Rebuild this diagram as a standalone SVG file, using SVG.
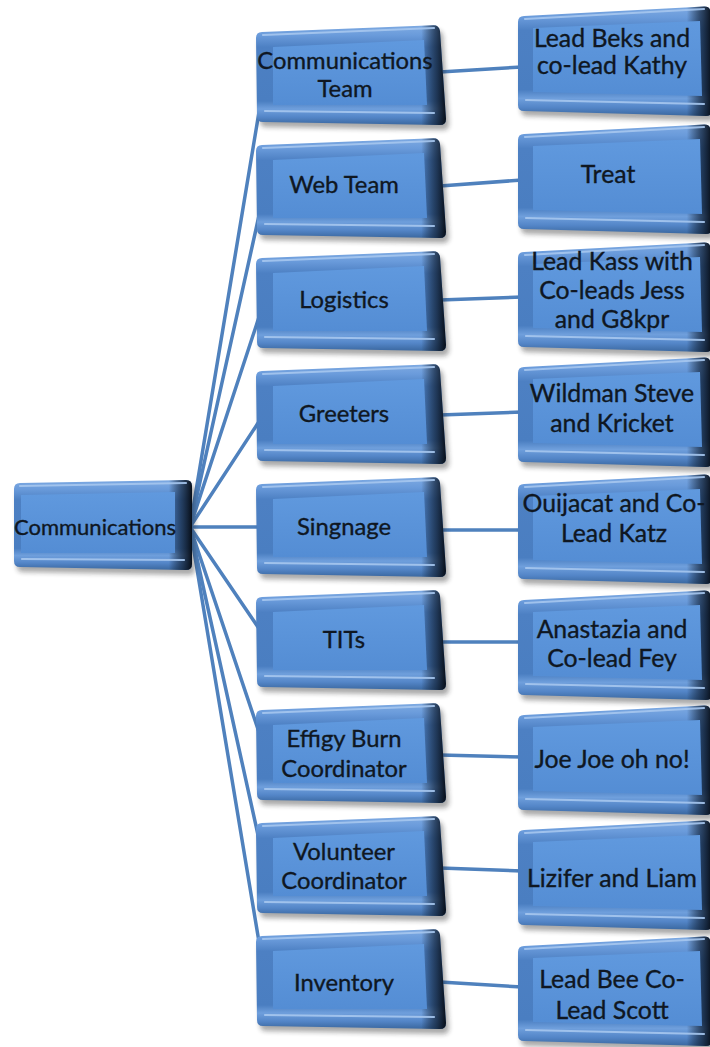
<svg xmlns="http://www.w3.org/2000/svg" xmlns:xlink="http://www.w3.org/1999/xlink" width="710" height="1047" viewBox="0 0 710 1047">
<style>
.t{font-family:Lato,"Liberation Sans",sans-serif;fill:#0f1722;stroke:#0f1722;stroke-width:0.35;text-anchor:middle}
.tr{font-size:22px}
.tm{font-size:23.8px}
.tg{font-size:24.8px}
.conn{stroke:#4f81bd;stroke-width:3.5;fill:none;stroke-linecap:round}
.sh{fill:#1a1a1a;opacity:.38;filter:url(#blur)}
.o{fill:url(#gOuter)}
.sd{fill:url(#gSide)}
.f{fill:url(#gFace)}
.hl{fill:none;stroke:#a6c6ee;stroke-width:2.2;stroke-linecap:round;opacity:.9}
</style>
<defs>
<linearGradient id="gOuter" x1="0" y1="0" x2="0" y2="1">
<stop offset="0" stop-color="#7eaae2"/>
<stop offset="0.1" stop-color="#6a9bdb"/>
<stop offset="0.22" stop-color="#4d80c3"/>
<stop offset="0.76" stop-color="#4a7ec1"/>
<stop offset="0.84" stop-color="#6f9fdc"/>
<stop offset="0.92" stop-color="#5486c8"/>
<stop offset="1" stop-color="#3a679f"/>
</linearGradient>
<linearGradient id="gSide" x1="0" y1="0" x2="1" y2="0">
<stop offset="0" stop-color="#0a1422" stop-opacity="0"/>
<stop offset="0.87" stop-color="#0a1422" stop-opacity="0"/>
<stop offset="0.94" stop-color="#13243b" stop-opacity="0.7"/>
<stop offset="1" stop-color="#050a12" stop-opacity="0.97"/>
</linearGradient>
<linearGradient id="gFace" x1="0" y1="0" x2="0" y2="1">
<stop offset="0" stop-color="#6099de"/>
<stop offset="1" stop-color="#548dd4"/>
</linearGradient>
<filter id="blur" x="-10%" y="-15%" width="125%" height="140%"><feGaussianBlur stdDeviation="2.5"/></filter>
<path id="mO" d="M0,13 Q0,7 6,7 L177,0.3 Q183,0 184,6 L190,94 Q190,100 184,100 L7,97 Q1,97 1,91 Z"/>
<path id="mF" d="M17,22 L168,15 L171,80 L17,80 Z"/>
<path id="mH" d="M7,10 L178,3 M9,86 L178,88"/>
<path id="rO" d="M0,16 Q0,10 6,10 L186,0.4 Q192,0 192.5,6 L194,104 Q194,110 188,110 L6,105 Q0,105 0,99 Z"/>
<path id="rF" d="M15,22 L182,15 L184,90 L15,86 Z"/>
<path id="rH" d="M7,13 L186,3 M8,94 L186,98"/>
<path id="cO" d="M0,9 Q0,3 6,3 L172,0 Q178,0 178,6 L178,84 Q178,90 172,90 L6,87 Q0,87 0,81 Z"/>
<path id="cF" d="M7,15 L161,12 L161,73 L7,73 Z"/>
<path id="cH" d="M6,6 L172,3 M8,79 L170,80"/>
</defs>
<rect width="710" height="1047" fill="#ffffff"/>
<g id="connectors">
<line class="conn" x1="190" y1="527" x2="262" y2="94"/>
<line class="conn" x1="190" y1="527" x2="262" y2="202"/>
<line class="conn" x1="190" y1="527" x2="262" y2="308"/>
<line class="conn" x1="190" y1="527" x2="262" y2="417"/>
<line class="conn" x1="190" y1="527" x2="262" y2="527"/>
<line class="conn" x1="190" y1="527" x2="262" y2="633"/>
<line class="conn" x1="190" y1="527" x2="262" y2="741"/>
<line class="conn" x1="190" y1="527" x2="262" y2="853"/>
<line class="conn" x1="190" y1="527" x2="262" y2="960"/>
<line class="conn" x1="440" y1="72" x2="522" y2="67"/>
<line class="conn" x1="440" y1="186" x2="522" y2="180"/>
<line class="conn" x1="440" y1="300" x2="522" y2="297"/>
<line class="conn" x1="440" y1="415" x2="522" y2="412"/>
<line class="conn" x1="440" y1="530" x2="522" y2="530"/>
<line class="conn" x1="440" y1="642" x2="522" y2="642"/>
<line class="conn" x1="440" y1="755" x2="522" y2="757"/>
<line class="conn" x1="440" y1="868" x2="522" y2="871"/>
<line class="conn" x1="440" y1="982" x2="522" y2="987"/>
</g>
<g id="n-root">
<g transform="translate(14,480)"><use href="#cO" class="sh" transform="translate(3,5)"/><use href="#cO" class="o"/><use href="#cO" class="sd"/><use href="#cF" class="f"/><use href="#cH" class="hl"/></g>
<text class="t tr" x="95" y="535">Communications</text>
</g>
<g id="n-communications-team">
<g transform="translate(256,25)"><use href="#mO" class="sh" transform="translate(3,5)"/><use href="#mO" class="o"/><use href="#mO" class="sd"/><use href="#mF" class="f"/><use href="#mH" class="hl"/></g>
<text class="t tm" x="345" y="69">Communications</text>
<text class="t tm" x="345" y="97">Team</text>
</g>
<g id="n-web-team">
<g transform="translate(256,138)"><use href="#mO" class="sh" transform="translate(3,5)"/><use href="#mO" class="o"/><use href="#mO" class="sd"/><use href="#mF" class="f"/><use href="#mH" class="hl"/></g>
<text class="t tm" x="344" y="193">Web Team</text>
</g>
<g id="n-logistics">
<g transform="translate(256,251)"><use href="#mO" class="sh" transform="translate(3,5)"/><use href="#mO" class="o"/><use href="#mO" class="sd"/><use href="#mF" class="f"/><use href="#mH" class="hl"/></g>
<text class="t tm" x="344" y="308">Logistics</text>
</g>
<g id="n-greeters">
<g transform="translate(256,364)"><use href="#mO" class="sh" transform="translate(3,5)"/><use href="#mO" class="o"/><use href="#mO" class="sd"/><use href="#mF" class="f"/><use href="#mH" class="hl"/></g>
<text class="t tm" x="344" y="422">Greeters</text>
</g>
<g id="n-singnage">
<g transform="translate(256,477)"><use href="#mO" class="sh" transform="translate(3,5)"/><use href="#mO" class="o"/><use href="#mO" class="sd"/><use href="#mF" class="f"/><use href="#mH" class="hl"/></g>
<text class="t tm" x="344" y="535">Singnage</text>
</g>
<g id="n-tits">
<g transform="translate(256,590)"><use href="#mO" class="sh" transform="translate(3,5)"/><use href="#mO" class="o"/><use href="#mO" class="sd"/><use href="#mF" class="f"/><use href="#mH" class="hl"/></g>
<text class="t tm" x="344" y="648">TITs</text>
</g>
<g id="n-effigy">
<g transform="translate(256,703)"><use href="#mO" class="sh" transform="translate(3,5)"/><use href="#mO" class="o"/><use href="#mO" class="sd"/><use href="#mF" class="f"/><use href="#mH" class="hl"/></g>
<text class="t tm" x="344" y="747">Effigy Burn</text>
<text class="t tm" x="344" y="777">Coordinator</text>
</g>
<g id="n-volunteer">
<g transform="translate(256,816)"><use href="#mO" class="sh" transform="translate(3,5)"/><use href="#mO" class="o"/><use href="#mO" class="sd"/><use href="#mF" class="f"/><use href="#mH" class="hl"/></g>
<text class="t tm" x="344" y="860">Volunteer</text>
<text class="t tm" x="344" y="889">Coordinator</text>
</g>
<g id="n-inventory">
<g transform="translate(256,929)"><use href="#mO" class="sh" transform="translate(3,5)"/><use href="#mO" class="o"/><use href="#mO" class="sd"/><use href="#mF" class="f"/><use href="#mH" class="hl"/></g>
<text class="t tm" x="344" y="991">Inventory</text>
</g>
<g id="n-beks">
<g transform="translate(518,6)"><use href="#rO" class="sh" transform="translate(3,5)"/><use href="#rO" class="o"/><use href="#rO" class="sd"/><use href="#rF" class="f"/><use href="#rH" class="hl"/></g>
<text class="t tg" x="612" y="47">Lead Beks and</text>
<text class="t tg" x="612" y="74">co-lead Kathy</text>
</g>
<g id="n-treat">
<g transform="translate(518,124)"><use href="#rO" class="sh" transform="translate(3,5)"/><use href="#rO" class="o"/><use href="#rO" class="sd"/><use href="#rF" class="f"/><use href="#rH" class="hl"/></g>
<text class="t tg" x="608" y="183">Treat</text>
</g>
<g id="n-kass">
<g transform="translate(518,242)"><use href="#rO" class="sh" transform="translate(3,5)"/><use href="#rO" class="o"/><use href="#rO" class="sd"/><use href="#rF" class="f"/><use href="#rH" class="hl"/></g>
<text class="t tg" x="612" y="270">Lead Kass with</text>
<text class="t tg" x="612" y="299">Co-leads Jess</text>
<text class="t tg" x="612" y="328">and G8kpr</text>
</g>
<g id="n-wildman">
<g transform="translate(518,357)"><use href="#rO" class="sh" transform="translate(3,5)"/><use href="#rO" class="o"/><use href="#rO" class="sd"/><use href="#rF" class="f"/><use href="#rH" class="hl"/></g>
<text class="t tg" x="612" y="402">Wildman Steve</text>
<text class="t tg" x="612" y="432">and Kricket</text>
</g>
<g id="n-ouijacat">
<g transform="translate(518,474)"><use href="#rO" class="sh" transform="translate(3,5)"/><use href="#rO" class="o"/><use href="#rO" class="sd"/><use href="#rF" class="f"/><use href="#rH" class="hl"/></g>
<text class="t tg" x="614" y="512">Ouijacat and Co-</text>
<text class="t tg" x="614" y="542">Lead Katz</text>
</g>
<g id="n-anastazia">
<g transform="translate(518,590)"><use href="#rO" class="sh" transform="translate(3,5)"/><use href="#rO" class="o"/><use href="#rO" class="sd"/><use href="#rF" class="f"/><use href="#rH" class="hl"/></g>
<text class="t tg" x="612" y="638">Anastazia and</text>
<text class="t tg" x="612" y="667">Co-lead Fey</text>
</g>
<g id="n-joe">
<g transform="translate(518,705)"><use href="#rO" class="sh" transform="translate(3,5)"/><use href="#rO" class="o"/><use href="#rO" class="sd"/><use href="#rF" class="f"/><use href="#rH" class="hl"/></g>
<text class="t tg" x="612" y="768">Joe Joe oh no!</text>
</g>
<g id="n-lizifer">
<g transform="translate(518,820)"><use href="#rO" class="sh" transform="translate(3,5)"/><use href="#rO" class="o"/><use href="#rO" class="sd"/><use href="#rF" class="f"/><use href="#rH" class="hl"/></g>
<text class="t tg" x="612" y="887">Lizifer and Liam</text>
</g>
<g id="n-bee">
<g transform="translate(518,936)"><use href="#rO" class="sh" transform="translate(3,5)"/><use href="#rO" class="o"/><use href="#rO" class="sd"/><use href="#rF" class="f"/><use href="#rH" class="hl"/></g>
<text class="t tg" x="612" y="988">Lead Bee Co-</text>
<text class="t tg" x="612" y="1019">Lead Scott</text>
</g>
</svg>
